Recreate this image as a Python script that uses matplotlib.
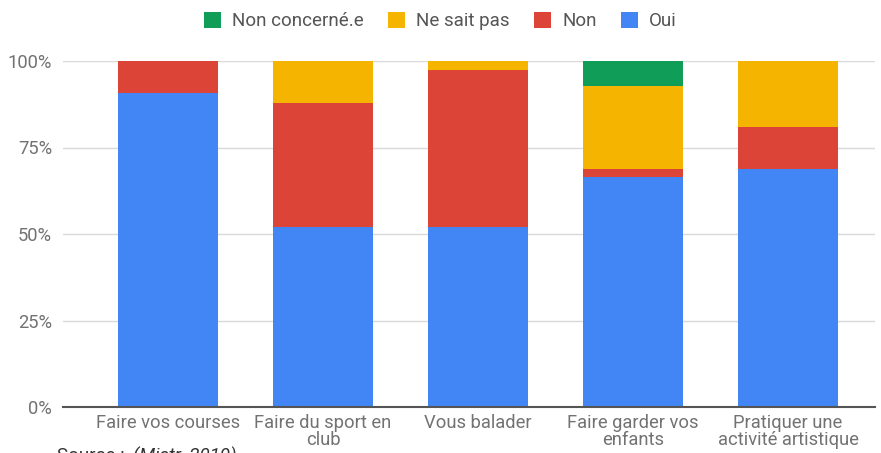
import numpy as np
import matplotlib.pyplot as plt

plt.rcParams['font.family'] = ['Roboto', 'DejaVu Sans']

categories = ['Faire vos courses', 'Faire du sport en\nclub', 'Vous balader',
              'Faire garder vos\nenfants', 'Pratiquer une\nactivité artistique']
oui = [90.8, 52.0, 52.0, 66.6, 68.8]
non = [9.2, 35.9, 45.4, 2.3, 12.2]
ne_sait_pas = [0.0, 12.1, 2.6, 24.0, 19.0]
non_concerne = [0.0, 0.0, 0.0, 7.1, 0.0]

series = [('Oui', oui, '#4285F4'),
          ('Non', non, '#DB4437'),
          ('Ne sait pas', ne_sait_pas, '#F4B400'),
          ('Non concerné.e', non_concerne, '#0F9D58')]

fig = plt.figure(figsize=(8.81, 4.53), dpi=100)
ax = fig.add_axes([63 / 881, 1 - 407 / 453, (875 - 63) / 881, 346 / 453])

x = np.arange(len(categories))
bottom = np.zeros(len(categories))
handles = []
for name, vals, col in series:
    vals = np.array(vals)
    b = ax.bar(x, vals, bottom=bottom, width=100 / 155, color=col, label=name, zorder=3)
    handles.append(b)
    bottom += vals

ax.set_ylim(0, 100)
ax.set_xlim(-(168 - 63) / 155, (875 - 168) / 155)
ax.set_yticks([0, 25, 50, 75, 100])
ax.set_yticklabels(['0%', '25%', '50%', '75%', '100%'])
ax.yaxis.grid(True, color='#d9d9d9', linewidth=1, zorder=0)
ax.set_xticks(x)
ax.set_xticklabels(categories, linespacing=0.95)
ax.tick_params(axis='both', length=0, labelsize=13.2, colors='#727272')
ax.tick_params(axis='x', pad=5)
ax.tick_params(axis='y', pad=8)
for side in ['top', 'right', 'left']:
    ax.spines[side].set_visible(False)
ax.spines['bottom'].set_color('#555555')
ax.spines['bottom'].set_linewidth(1.5)
ax.spines['bottom'].set_zorder(4)

leg = fig.legend(handles[::-1], [s[0] for s in series][::-1], loc='center',
                 bbox_to_anchor=(0.5, 1 - 21 / 453), ncol=4, frameon=False,
                 fontsize=13.5, handlelength=0.9, handleheight=1.0,
                 handletextpad=0.6, columnspacing=1.3)
for t in leg.get_texts():
    t.set_color('#555555')

fig.text(57 / 881, 1 - 447 / 453, 'Source : ', fontsize=13.5, color='#333333', va='top')
fig.text(133 / 881, 1 - 447 / 453, '(Mistr, 2019)', fontsize=13.5, color='#333333',
         va='top', style='italic')

fig.savefig('out.png', dpi=100)
